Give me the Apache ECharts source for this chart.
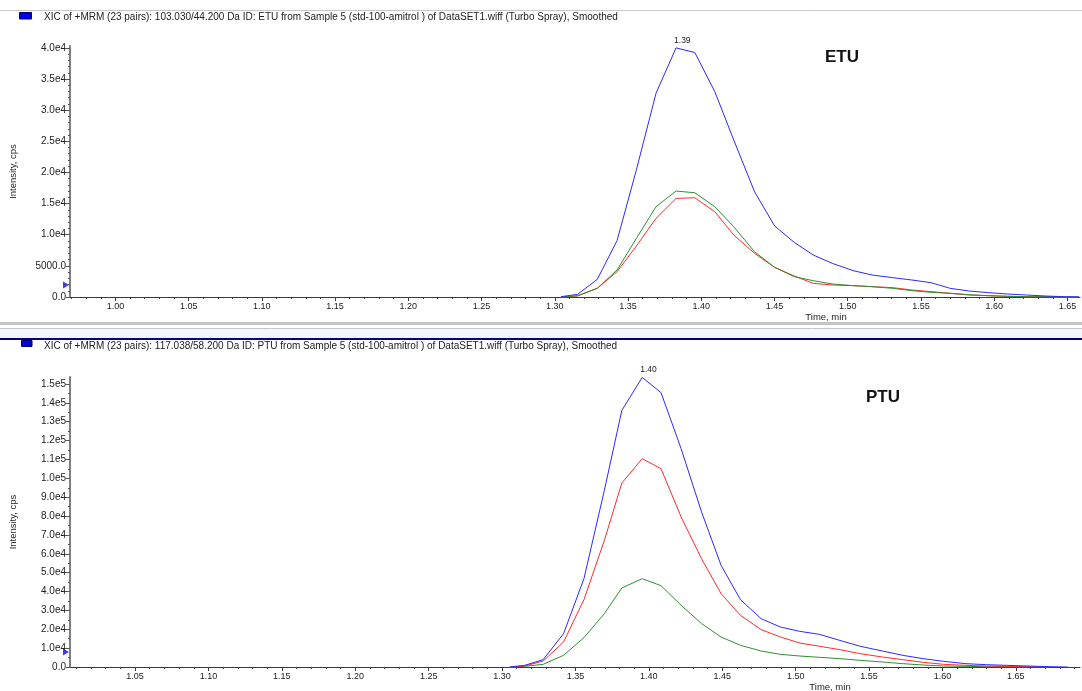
<!DOCTYPE html>
<html><head><meta charset="utf-8">
<script src="https://cdn.jsdelivr.net/npm/echarts@6/dist/echarts.min.js"></script>
<style>html,body{margin:0;padding:0;background:#fff}#c{width:1082px;height:691px}</style>
</head><body><div id="c"></div>
<script>
// ---------- ETU (top panel) ----------
const etuTime = [1.3042, 1.3156, 1.3290, 1.3425, 1.3557, 1.3691, 1.3828, 1.3956, 1.4093, 1.4222, 1.4364, 1.4501, 1.4635, 1.4765, 1.4895, 1.5037, 1.5166, 1.5308, 1.5438, 1.5568, 1.5700, 1.5830, 1.5960, 1.6090, 1.6220, 1.6350, 1.6480, 1.6580];
const etuBlue  = [50, 430, 2830, 9040, 20400, 32700, 40000, 39250, 32950, 25200, 16900, 11400, 8770, 6740, 5400, 4230, 3530, 3100, 2730, 2300, 1390, 960, 700, 480, 320, 160, 50, 0];
const etuGreen = [0, 210, 1390, 4330, 9410, 14490, 17010, 16740, 14490, 11280, 7270, 4760, 3260, 2620, 2090, 1820, 1660, 1390, 1020, 750, 590, 370, 210, 110, 50, 50, 0, 0];
const etuRed   = [0, 160, 1390, 4060, 8180, 12620, 15830, 15940, 13690, 9950, 7010, 4760, 3370, 2190, 1930, 1820, 1660, 1500, 1120, 860, 590, 320, 210, 110, 50, 50, 0, 0];

// ---------- PTU (bottom panel) ----------
const ptuTime = [1.3053, 1.3154, 1.3280, 1.3419, 1.3558, 1.3697, 1.3816, 1.3955, 1.4083, 1.4220, 1.4359, 1.4492, 1.4624, 1.4765, 1.4896, 1.5028, 1.5162, 1.5301, 1.5439, 1.5591, 1.5730, 1.5869, 1.6008, 1.6159, 1.6298, 1.6437, 1.6576, 1.6727, 1.6854];
const ptuBlue  = [0, 880, 3890, 17670, 46830, 93650, 136000, 153500, 145400, 115700, 82200, 53900, 35700, 25600, 21200, 18900, 17300, 14100, 11000, 8480, 6180, 4420, 3000, 1770, 1240, 880, 530, 180, 0];
const ptuRed   = [0, 530, 3180, 13250, 35700, 67100, 97500, 110400, 105100, 79500, 57400, 38900, 27400, 19800, 15900, 12700, 11000, 9190, 7070, 5300, 3890, 2470, 1410, 880, 530, 350, 180, 0, null];
const ptuGreen = [0, 350, 1410, 6180, 15550, 28270, 41900, 46800, 43100, 32700, 23000, 15900, 11500, 8480, 6710, 5830, 5120, 4420, 3530, 2650, 1770, 1060, 530, 350, 180, 180, 0, null, null];

// ---------- ticks / labels / texts ----------
const xTicksTop = [1.00, 1.05, 1.10, 1.15, 1.20, 1.25, 1.30, 1.35, 1.40, 1.45, 1.50, 1.55, 1.60, 1.65];
const xTicksBottom = [1.05, 1.10, 1.15, 1.20, 1.25, 1.30, 1.35, 1.40, 1.45, 1.50, 1.55, 1.60, 1.65];
const yTicksTop = [0, 5000, 10000, 15000, 20000, 25000, 30000, 35000, 40000];
const yLabelsTop = ['0.0', '5000.0', '1.0e4', '1.5e4', '2.0e4', '2.5e4', '3.0e4', '3.5e4', '4.0e4'];
const yTicksBottom = [0, 10000, 20000, 30000, 40000, 50000, 60000, 70000, 80000, 90000, 100000, 110000, 120000, 130000, 140000, 150000];
const yLabelsBottom = ['0.0', '1.0e4', '2.0e4', '3.0e4', '4.0e4', '5.0e4', '6.0e4', '7.0e4', '8.0e4', '9.0e4', '1.0e5', '1.1e5', '1.2e5', '1.3e5', '1.4e5', '1.5e5'];
const headerTop = 'XIC of +MRM (23 pairs): 103.030/44.200 Da ID: ETU from Sample 5 (std-100-amitrol ) of DataSET1.wiff (Turbo Spray), Smoothed';
const headerBottom = 'XIC of +MRM (23 pairs): 117.038/58.200 Da ID: PTU from Sample 5 (std-100-amitrol ) of DataSET1.wiff (Turbo Spray), Smoothed';
const compoundNames = ['ETU', 'PTU'];
const peakLabels = ['1.39', '1.40'];
const baselineMarkers = [1930, 7950];
const yAxisTitle = 'Intensity, cps';
const xAxisTitle = 'Time, min';

// axis ranges
const xRangeTop = [0.969, 1.6586];
const xRangeBottom = [1.0057, 1.6937];
const yMaxTop = 40300;
const yMaxBottom = 153700;

function steps(a, b, s) { const out = []; for (let v = a; v <= b + 1e-9; v += s) out.push(Math.round(v * 1000) / 1000); return out; }
const xMinorTop = steps(0.97, 1.65, 0.01);
const xMinorBottom = steps(1.01, 1.69, 0.01);
const yMinorTop = steps(0, 40000, 1000);
const yMinorBottom = steps(0, 150000, 5000);

const FONT = 'Liberation Sans, Arial, sans-serif';
const C_BLUE = '#2a2aff', C_RED = '#ff2a2a', C_GREEN = '#2f8f2f';

function pairs(t, v) { const d = []; t.forEach((x, i) => { if (v[i] !== null && v[i] !== undefined) d.push([x, v[i]]); }); return d; }

function xAxes(grid, range, ticks, minor) {
  return [
    { gridIndex: grid, type: 'value', position: 'bottom', min: range[0], max: range[1],
      axisLine: { show: true, onZero: false, lineStyle: { color: '#3a3a3a', width: 1 } },
      axisTick: { show: true, customValues: ticks, length: 4, lineStyle: { color: '#3a3a3a' } },
      axisLabel: { customValues: ticks, formatter: v => v.toFixed(2), fontFamily: FONT, fontSize: 9, color: '#222', margin: 5 },
      splitLine: { show: false } },
    { gridIndex: grid, type: 'value', position: 'bottom', offset: 0, min: range[0], max: range[1],
      axisLine: { show: false },
      axisTick: { show: true, customValues: minor, length: 2, lineStyle: { color: '#3a3a3a' } },
      axisLabel: { show: false }, splitLine: { show: false } }
  ];
}
function yAxes(grid, max, ticks, labels, minor) {
  return [
    { gridIndex: grid, type: 'value', position: 'left', min: 0, max: max,
      name: yAxisTitle, nameLocation: 'middle', nameGap: 52, nameRotate: 90,
      nameTextStyle: { fontFamily: FONT, fontSize: 9.5, color: '#222' },
      axisLine: { show: true, onZero: false, lineStyle: { color: '#808080', width: 2 } },
      axisTick: { show: true, customValues: ticks, length: 4, lineStyle: { color: '#555' } },
      axisLabel: { customValues: ticks, formatter: v => labels[ticks.indexOf(v)], fontFamily: FONT, fontSize: 10, color: '#222', margin: 4 },
      splitLine: { show: false } },
    { gridIndex: grid, type: 'value', position: 'left', offset: 0, min: 0, max: max,
      axisLine: { show: false },
      axisTick: { show: true, customValues: minor, length: 2, lineStyle: { color: '#555' } },
      axisLabel: { show: false }, splitLine: { show: false } }
  ];
}
function line(name, grid, t, v, color, peakText) {
  const s = { name, type: 'line', xAxisIndex: grid * 2, yAxisIndex: grid * 2, data: pairs(t, v),
    symbol: 'none', lineStyle: { color, width: 1 }, itemStyle: { color }, silent: true, clip: false };
  if (peakText) {
    s.markPoint = { symbol: 'circle', symbolSize: 0, silent: true,
      data: [{ type: 'max' }],
      label: { show: true, position: 'top', distance: 3, align: 'left', offset: [-2, 0], formatter: () => peakText,
        fontFamily: FONT, fontSize: 8.5, color: '#222' } };
  }
  return s;
}
function marker(grid, xmin, val) {
  return { type: 'scatter', xAxisIndex: grid * 2, yAxisIndex: grid * 2, data: [[xmin, val]],
    symbol: 'triangle', symbolRotate: -90, symbolSize: [7, 6], symbolOffset: [-4, 0],
    itemStyle: { color: '#1010d0' }, clip: false, silent: true, z: 5 };
}

const chart = echarts.init(document.getElementById('c'), null, { renderer: 'canvas' });
chart.setOption({
  animation: false,
  backgroundColor: '#fff',
  grid: [
    { left: 70, top: 46, width: 1010, height: 251, containLabel: false },
    { left: 70, top: 377, width: 1010, height: 290, containLabel: false }
  ],
  xAxis: [].concat(xAxes(0, xRangeTop, xTicksTop, xMinorTop), xAxes(1, xRangeBottom, xTicksBottom, xMinorBottom)),
  yAxis: [].concat(yAxes(0, yMaxTop, yTicksTop, yLabelsTop, yMinorTop), yAxes(1, yMaxBottom, yTicksBottom, yLabelsBottom, yMinorBottom)),
  series: [
    line('ETU red', 0, etuTime, etuRed, C_RED),
    line('ETU green', 0, etuTime, etuGreen, C_GREEN),
    line('ETU blue', 0, etuTime, etuBlue, C_BLUE, peakLabels[0]),
    marker(0, xRangeTop[0], baselineMarkers[0]),
    line('PTU green', 1, ptuTime, ptuGreen, C_GREEN),
    line('PTU red', 1, ptuTime, ptuRed, C_RED),
    line('PTU blue', 1, ptuTime, ptuBlue, C_BLUE, peakLabels[1]),
    marker(1, xRangeBottom[0], baselineMarkers[1])
  ],
  graphic: [
    { type: 'line', shape: { x1: 0, y1: 10.5, x2: 1082, y2: 10.5 }, style: { stroke: '#c8c8c8', lineWidth: 1 }, silent: true },
    { type: 'rect', shape: { x: 19.5, y: 12.5, width: 12, height: 6.5 }, style: { fill: '#0000e0', stroke: '#000070', lineWidth: 1 }, silent: true },
    { type: 'text', x: 44, y: 17, style: { text: headerTop, fontFamily: FONT, fontSize: 10, fill: '#222', verticalAlign: 'middle' }, silent: true },
    { type: 'text', x: 826, y: 317, style: { text: xAxisTitle, fontFamily: FONT, fontSize: 9.5, fill: '#222', align: 'center', verticalAlign: 'middle' }, silent: true },
    { type: 'text', x: 842, y: 57, style: { text: compoundNames[0], fontFamily: FONT, fontSize: 17, fontWeight: 'bold', fill: '#111', align: 'center', verticalAlign: 'middle' }, silent: true },
    { type: 'rect', shape: { x: 0, y: 322, width: 1082, height: 3 }, style: { fill: '#c4c4c4' }, silent: true },
    { type: 'line', shape: { x1: 0, y1: 328.5, x2: 1082, y2: 328.5 }, style: { stroke: '#c8c8c8', lineWidth: 1 }, silent: true },
    { type: 'rect', shape: { x: 0, y: 329, width: 1082, height: 9 }, style: { fill: '#f4f6fc' }, silent: true },
    { type: 'rect', shape: { x: 0, y: 338, width: 1082, height: 2 }, style: { fill: '#000080' }, silent: true },
    { type: 'rect', shape: { x: 21.5, y: 340.5, width: 10.5, height: 6 }, style: { fill: '#0000e0', stroke: '#000070', lineWidth: 1 }, silent: true },
    { type: 'text', x: 44, y: 346, style: { text: headerBottom, fontFamily: FONT, fontSize: 10, fill: '#222', verticalAlign: 'middle' }, silent: true },
    { type: 'text', x: 830, y: 687, style: { text: xAxisTitle, fontFamily: FONT, fontSize: 9.5, fill: '#222', align: 'center', verticalAlign: 'middle' }, silent: true },
    { type: 'text', x: 883, y: 397, style: { text: compoundNames[1], fontFamily: FONT, fontSize: 17, fontWeight: 'bold', fill: '#111', align: 'center', verticalAlign: 'middle' }, silent: true }
  ]
});
</script>
</body></html>
